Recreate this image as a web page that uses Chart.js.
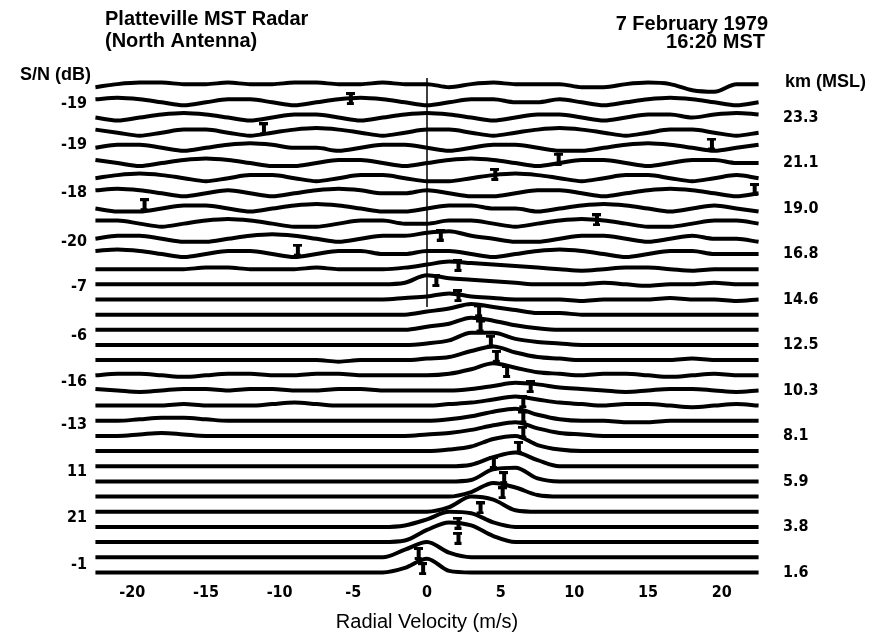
<!DOCTYPE html>
<html>
<head>
<meta charset="utf-8">
<title>Platteville MST Radar - Doppler spectra</title>
<script src="https://cdn.jsdelivr.net/npm/chart.js@4.4.0/dist/chart.umd.min.js"></script>
<style>
  html, body { margin: 0; padding: 0; background: #fff; }
  #wrap { width: 881px; height: 638px; position: relative; }
</style>
</head>
<body>
<div id="wrap"><canvas id="chart"></canvas></div>
<script>
// velocity bins of the spectra (m/s)
const vel = [-22.5, -21, -19.5, -18, -16.5, -15, -13.5, -12, -10.5, -9, -7.5, -6, -4.5, -3, -1.5,
             0, 1.5, 3, 4.5, 6, 7.5, 9, 10.5, 12, 13.5, 15, 16.5, 18, 19.5, 21, 22.5];

// spectral power per range gate, in tenths of the trace spacing (lowest gate first)
const g00 = [0,0,0,0,0,0,0,0,0,0, 0,0,0,0,3,9,1,0,0,0, 0,0,0,0,0,0,0,0,0,0,0];
const g01 = [0,0,0,0,0,0,0,0,0,0, 0,0,0,0,5,10,3,0,0,0, 0,0,0,0,0,0,0,0,0,0,0];
const g02 = [0,0,0,0,0,0,0,0,0,0, 0,0,0,0,1,8,13,11,4,0, 0,0,0,0,0,0,0,0,0,0,0];
const g03 = [0,0,0,0,0,0,0,0,0,0, 0,0,0,0,1,5,10,9,3,0, 0,0,0,0,0,0,0,0,0,0,0];
const g04 = [0,0,0,0,0,0,0,0,0,0, 0,0,0,0,0,0,3,10,8,1, 0,0,0,0,0,0,0,0,0,0,0];
const g05 = [0,0,0,0,0,0,0,0,0,0, 0,0,0,0,0,0,0,3,9,6, 1,0,0,0,0,0,0,0,0,0,0];
const g06 = [0,0,0,0,0,0,0,0,0,0, 0,0,0,0,0,0,0,1,8,9, 2,0,0,0,0,0,0,0,0,0,0];
const g07 = [0,0,0,0,0,0,0,0,0,0, 0,0,0,0,0,0,0,1,6,9, 4,0,0,0,0,0,0,0,0,0,0];
const g08 = [0,0,0,0,0,0,0,0,0,0, 0,0,0,0,0,0,1,3,8,10, 4,1,0,0,0,0,0,0,0,0,0];
const g09 = [0,0,1,2,1,0,0,0,0,0, 0,0,0,0,0,1,2,4,7,9, 5,2,1,0,0,0,0,0,0,0,0];
const g10 = [0,0,1,2,2,1,0,0,0,0, 0,0,0,0,0,0,1,3,6,8, 4,1,0,0,-1,-1,0,0,0,0,0];
const g11 = [0,0,0,0,1,0,0,0,1,2, 1,0,0,0,0,0,1,2,4,6, 4,2,1,0,1,1,0,-1,0,1,0];
const g12 = [1,0,-1,0,1,1,0,1,1,0, 0,1,1,0,0,0,0,1,3,5, 4,2,1,0,-1,0,1,1,0,-1,0];
const g13 = [0,1,1,0,-1,0,1,1,0,0, 1,1,0,0,0,0,1,4,8,5, 2,1,0,1,1,0,-1,0,1,0,0];
const g14 = [0,0,0,0,0,0,0,0,0,0, 0,-1,0,0,0,1,2,6,9,5, 2,1,0,0,0,0,0,1,0,0,0];
const g15 = [0,0,0,0,0,0,0,0,0,0, 0,0,0,0,0,1,3,8,8,4, 2,1,0,0,0,0,0,0,0,0,0];
const g16 = [0,0,0,0,0,0,0,0,0,0, 0,0,0,0,0,2,4,8,6,3, 1,0,0,0,0,0,0,0,0,0,0];
const g17 = [0,0,0,0,0,0,0,0,0,0, 0,0,0,0,0,2,4,7,5,3, 1,1,0,0,0,0,0,0,0,0,0];
const g18 = [0,0,0,0,0,0,0,0,0,0, 0,0,0,0,1,2,4,2,1,0, 0,0,-1,0,0,0,1,0,0,-1,0];
const g19 = [0,0,0,0,0,0,0,0,0,0, 0,0,0,0,1,6,4,3,2,1, 0,0,0,1,0,-1,0,0,1,0,0];
const g20 = [0,0,0,0,0,1,1,0,0,0, 1,0,0,0,1,3,5,4,3,2, 1,0,-1,0,1,1,0,-1,0,0,0];
const g21 = [2,3,2,0,-2,0,2,2,0,-2, 0,2,2,0,0,2,2,0,-2,0, 2,3,2,0,-2,0,2,2,0,0,0];
const g22 = [0,2,2,0,-2,-2,0,2,3,2, 0,-2,0,2,2,4,5,2,0,-2, -2,0,2,2,0,-2,0,2,0,0,-2];
const g23 = [2,2,0,-2,0,2,3,2,0,-2, -2,0,2,2,0,0,2,2,0,-2, 0,2,3,2,0,-2,-2,0,2,2,0];
const g24 = [0,-2,-2,0,2,2,0,-2,0,2, 3,2,0,-2,-2,0,2,2,0,0, -2,0,2,3,2,0,-2,0,2,0,-2];
const g25 = [2,3,2,0,-2,0,2,0,-2,0, 2,3,2,0,0,2,0,-2,-2,0, 2,2,0,-2,0,2,3,2,0,-2,0];
const g26 = [0,2,3,2,0,-2,0,2,2,0, -2,0,2,2,0,-2,-2,0,2,3, 2,0,-2,0,2,2,0,-2,0,2,0];
const g27 = [2,0,-2,0,2,3,2,0,-2,-2, 0,2,2,0,-2,0,2,3,2,0, -2,0,2,2,0,-2,0,2,2,0,0];
const g28 = [0,2,2,0,-2,0,2,3,2,0, 0,-2,0,2,2,0,-2,0,2,2, 0,-2,-2,0,2,3,2,0,-2,0,2];
const g29 = [2,0,-2,0,2,2,0,-2,0,2, 3,2,0,-2,0,2,2,0,-2,0, 2,3,2,0,-2,0,2,2,0,-2,0];
const g30 = [0,-2,0,2,3,2,0,-2,0,2, 2,0,-2,0,2,3,2,0,-2,0, 2,2,0,-2,0,2,2,0,2,3,2];
const g31 = [2,3,2,0,-2,0,2,2,0,-2, 0,2,3,2,0,-2,0,2,2,0, 0,2,0,-2,0,2,3,2,0,-2,0];
const g32 = [0,2,3,3,2,2,3,2,2,3, 3,2,2,3,2,2,0,2,3,2, 2,2,0,0,2,3,2,-2,-3,2,2];

const gates = [g00, g01, g02, g03, g04, g05, g06, g07, g08, g09, g10,
               g11, g12, g13, g14, g15, g16, g17, g18, g19, g20, g21,
               g22, g23, g24, g25, g26, g27, g28, g29, g30, g31, g32];

// mean radial velocity marked on each gate (m/s), null where none is drawn
const markerVel = [-0.3, -0.6, 2.1, 2.1, 3.6, 5.1, 5.2, 4.5, 6.2, 6.5, 6.5,
                   6.5, 7.0, 5.4, 4.7, 4.3, 3.6, 3.5, 2.1, 0.6, 2.1, -8.8,
                   0.9, 11.5, -19.2, 22.2, 4.6, 8.9, 19.3, -11.1, null, -5.2, null];

const velTicks = [-20, -15, -10, -5, 0, 5, 10, 15, 20];

// signal-to-noise labels (left) and heights (right), placed by gate number
const snAt = [0.5, 3.6, 6.6, 9.7, 12.6, 15.6, 18.8, 21.8, 25.0, 28.2, 30.9];
const snLabels = ['-1', '21', '11', '-13', '-16', '-6', '-7', '-20', '-18', '-19', '-19'];
const kmAt = [0, 3, 6, 9, 12, 15, 18, 21, 24, 27, 30];
const kmLabels = ['1.6', '3.8', '5.9', '8.1', '10.3', '12.5', '14.6', '16.8', '19.0', '21.1', '23.3'];

// zero-velocity reference drawn through the upper gates
const zeroFrom = 17.5;
const zeroTo = 32.6;

const NARROW = '"Liberation Sans Narrow", "DejaVu Sans Condensed", "Liberation Sans", sans-serif';
const SANS = '"Liberation Sans", Arial, sans-serif';

// small I-beam used as the velocity marker
const tick = document.createElement('canvas');
tick.width = 9;
tick.height = 13;
const tc = tick.getContext('2d');
tc.fillStyle = '#000';
tc.fillRect(0, 0, 9, 3);
tc.fillRect(3, 0, 4, 13);
tc.fillRect(1, 10, 7, 3);

let datasets = gates.map((g, i) => ({
    data: vel.map((v, k) => ({ x: v, y: i + g[k] / 10 })),
    borderColor: '#000',
    borderWidth: 4,
    pointRadius: 0,
    cubicInterpolationMode: 'monotone',
    yAxisID: 'y'
}));

let markerPts = [];
markerVel.forEach((v, i) => {
    if (v !== null) markerPts.push({ x: v, y: i + 0.25 });
});

datasets.push({
    data: markerPts,
    showLine: false,
    pointStyle: tick,
    pointRadius: 6,
    yAxisID: 'y'
});

datasets.push({
    data: [{ x: 0, y: zeroFrom }, { x: 0, y: zeroTo }],
    borderColor: '#000',
    borderWidth: 1.5,
    pointRadius: 0,
    tension: 0,
    yAxisID: 'y'
});

/* HEADER TEXT */
const header = {
    id: 'header',
    afterDraw(chart) {
        const c = chart.ctx;
        c.save();
        c.fillStyle = '#000';
        c.textBaseline = 'middle';
        c.font = 'bold 20px ' + SANS;
        c.textAlign = 'left';
        c.fillText('Platteville MST Radar', 105, 19);
        c.fillText('(North Antenna)', 105, 41);
        c.textAlign = 'right';
        c.fillText('7 February 1979', 768, 24);
        c.fillText('16:20 MST', 765, 42);
        c.font = 'bold 18px ' + SANS;
        c.textAlign = 'left';
        c.fillText('S/N (dB)', 20, 75);
        c.fillText('km (MSL)', 785, 82);
        c.restore();
    }
};

let chart = new Chart(document.getElementById('chart'), {
    type: 'line',
    data: { datasets },
    plugins: [header],
    options: {
        responsive: true,
        maintainAspectRatio: false,
        animation: false,
        layout: { padding: { top: 72, left: 0, right: 0, bottom: 0 } },
        plugins: { legend: { display: false }, tooltip: { enabled: false } },
        scales: {
            x: {
                type: 'linear',
                min: -22.8,
                max: 22.8,
                grid: { display: false, drawTicks: false },
                border: { display: false },
                afterBuildTicks: axis => { axis.ticks = velTicks.map(v => ({ value: v })); },
                afterFit: axis => { axis.height = 58; },
                ticks: {
                    color: '#000',
                    padding: 3,
                    maxRotation: 0,
                    font: { family: NARROW, size: 16, weight: 'bold' },
                    callback: v => String(v)
                },
                title: {
                    display: true,
                    text: 'Radial Velocity (m/s)',
                    color: '#000',
                    padding: { top: 0, bottom: 4 },
                    font: { family: SANS, size: 20 }
                }
            },
            y: {
                type: 'linear',
                position: 'left',
                min: -0.5,
                max: 33,
                grid: { display: false, drawTicks: false },
                border: { display: false },
                afterBuildTicks: axis => { axis.ticks = snAt.map(v => ({ value: v })); },
                afterFit: axis => { axis.width = 91; },
                ticks: {
                    color: '#000',
                    padding: 4,
                    font: { family: NARROW, size: 16, weight: 'bold' },
                    callback: (v, i) => snLabels[i]
                }
            },
            y2: {
                type: 'linear',
                position: 'right',
                min: -0.5,
                max: 33,
                grid: { display: false, drawTicks: false },
                border: { display: false },
                afterBuildTicks: axis => { axis.ticks = kmAt.map(v => ({ value: v })); },
                afterFit: axis => { axis.width = 118; },
                ticks: {
                    color: '#000',
                    padding: 20,
                    font: { family: NARROW, size: 16, weight: 'bold' },
                    callback: (v, i) => kmLabels[i]
                }
            }
        }
    }
});
</script>
</body>
</html>
